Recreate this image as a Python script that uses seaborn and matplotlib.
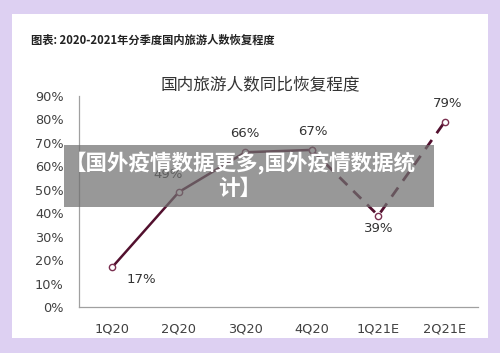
import matplotlib
matplotlib.use("Agg")
import matplotlib.pyplot as plt
import seaborn as sns
import pandas as pd
from matplotlib.patches import Rectangle

categories = ["1Q20", "2Q20", "3Q20", "4Q20", "1Q21E", "2Q21E"]
values = [0.17, 0.49, 0.66, 0.67, 0.39, 0.79]
labels = ["17%", "49%", "66%", "67%", "39%", "79%"]
yticks = [0, 0.1, 0.2, 0.3, 0.4, 0.5, 0.6, 0.7, 0.8, 0.9]
ytick_labels = ["0%", "10%", "20%", "30%", "40%", "50%", "60%", "70%", "80%", "90%"]

sns.set_theme(style="white")
plt.rcParams['font.family'] = ['Noto Sans CJK SC', 'DejaVu Sans']

df = pd.DataFrame({"x": range(len(categories)), "cat": categories, "v": values})
actual = df.iloc[:4]
forecast = df.iloc[3:]

fig = plt.figure(figsize=(5, 3.53), dpi=100)
fig.patch.set_facecolor("#ddd0f2")
card = Rectangle((12/500, 1-338/353), 476/500, 324/353, transform=fig.transFigure,
                 facecolor="white", edgecolor="none", zorder=-10)
fig.patches.append(card)

ax = fig.add_axes([79/500, 1-307/353, 399/500, 211/353])
ax.set_facecolor("none")
ax.set_zorder(2)

line_color = "#52102e"
sns.lineplot(data=actual, x="x", y="v", ax=ax, color=line_color, linewidth=1.8,
             marker="o", markersize=4.5, markerfacecolor="white",
             markeredgecolor="#7a3050", markeredgewidth=1.0)
sns.lineplot(data=forecast, x="x", y="v", ax=ax, color=line_color, linewidth=2.0,
             linestyle=(0, (4, 3)), marker="o", markersize=4.5, markerfacecolor="white",
             markeredgecolor="#7a3050", markeredgewidth=1.0)

offsets = [(21, -9), (-8, 13), (0, 13.5), (1, 13.5), (0, -9.5), (2, 13.5)]
for i, (v, lab) in enumerate(zip(values, labels)):
    ax.annotate(lab, (i, v), xytext=offsets[i], textcoords="offset points",
                ha="center", va="center", fontsize=9.5, color="#333333",
                family=["DejaVu Sans"])

ax.set_xlim(-0.5, 5.5)
ax.set_ylim(0, 0.9)
ax.set_yticks(yticks)
ax.set_yticklabels(ytick_labels, family=["DejaVu Sans"], fontsize=9.3, color="#404040")
ax.set_xticks(range(len(categories)))
ax.set_xticklabels(categories, family=["DejaVu Sans"], fontsize=9.3, color="#404040")
ax.set_xticks([i + 0.5 for i in range(-1, 6)], minor=True)
ax.tick_params(axis="x", which="major", length=0, pad=11)
ax.tick_params(axis="x", which="minor", direction="in", length=4, color="#a0a0a0", width=0.8)
ax.tick_params(axis="y", which="major", direction="in", length=3, color="#a0a0a0", width=0.8, pad=11)
ax.set_xlabel("")
ax.set_ylabel("")
for s in ["top", "right"]:
    ax.spines[s].set_visible(False)
for s in ["left", "bottom"]:
    ax.spines[s].set_color("#a0a0a0")
    ax.spines[s].set_linewidth(0.9)

fig.text(31/500, 1-40/353, "图表: 2020-2021年分季度国内旅游人数恢复程度", fontsize=8.1,
         fontweight="bold", color="#222222", ha="left", va="center")
fig.text(260/500, 1-85/353, "国内旅游人数同比恢复程度", fontsize=12,
         color="#333333", ha="center", va="center", fontweight="light")

banner = Rectangle((64/500, 1-207/353), 370/500, 62/353, transform=fig.transFigure,
                   facecolor="#707070", alpha=0.72, edgecolor="none", zorder=5)
fig.patches.append(banner)
fig.text(240/500, 1-163/353, "【国外疫情数据更多,国外疫情数据统", fontsize=15.5,
         fontweight="bold", color="white", ha="center", va="center", zorder=6)
fig.text(240/500, 1-188/353, "计】", fontsize=15.5,
         fontweight="bold", color="white", ha="center", va="center", zorder=6)

fig.savefig("out.png", dpi=100)
